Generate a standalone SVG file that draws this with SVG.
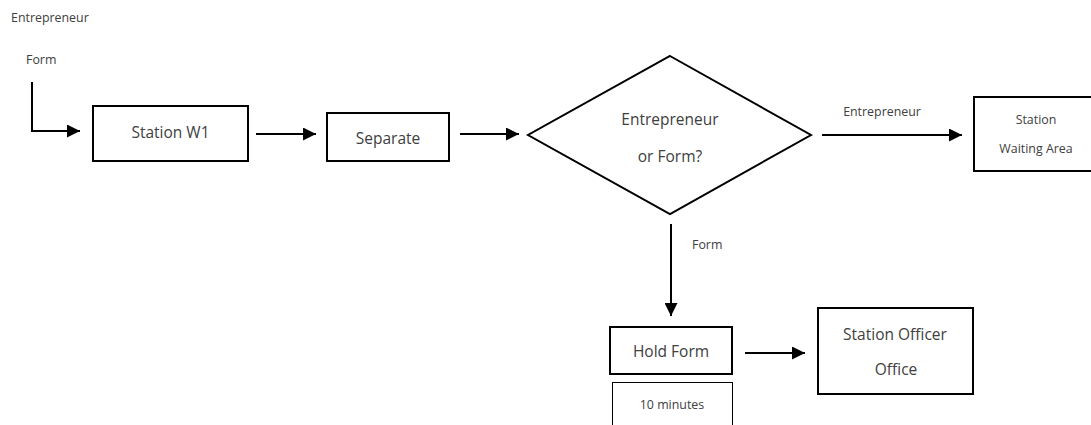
<svg xmlns="http://www.w3.org/2000/svg" width="1091" height="425" viewBox="0 0 1091 425">
  <defs>
    <marker id="arrow" markerUnits="userSpaceOnUse" markerWidth="14" markerHeight="13" refX="13" refY="6.5" orient="auto">
      <path d="M0,0 L13,6.5 L0,13 z" fill="#000"/>
    </marker>
    <style>
      .box { fill: #fff; stroke: #000; stroke-width: 2; }
      .thin { fill: #fff; stroke: #000; stroke-width: 1; }
      .conn { fill: none; stroke: #000; stroke-width: 2; marker-end: url(#arrow); }
      text { font-family: "Open Sans", "Noto Sans", "DejaVu Sans", sans-serif; fill: #404040; }
      .main { font-size: 15.5px; text-anchor: middle; }
      .small { font-size: 12.4px; }
      .mid { text-anchor: middle; }
    </style>
  </defs>
  <rect width="1091" height="425" fill="#fff"/>

  <!-- free-standing labels -->
  <text class="small" x="11" y="22">Entrepreneur</text>
  <text class="small" x="26" y="64">Form</text>

  <g id="connectors">
    <polyline class="conn" points="32,82 32,131 80,131"/>
    <line class="conn" x1="256" y1="134" x2="316" y2="134"/>
    <line class="conn" x1="460" y1="134" x2="519" y2="134"/>
    <line class="conn" x1="822" y1="135" x2="962" y2="135"/>
    <text class="small mid" x="882" y="116">Entrepreneur</text>
    <line class="conn" x1="671" y1="224" x2="671" y2="316"/>
    <text class="small" x="692" y="249">Form</text>
    <line class="conn" x1="745" y1="353" x2="805" y2="353"/>
  </g>

  <g id="station-w1">
    <rect class="box" x="93" y="106" width="155" height="55"/>
    <text class="main" x="170.5" y="138">Station W1</text>
  </g>

  <g id="separate">
    <rect class="box" x="327" y="113" width="122" height="48"/>
    <text class="main" x="388" y="144">Separate</text>
  </g>

  <g id="decision">
    <polygon class="box" points="670,56 811,135 670,214 528,135"/>
    <text class="main" x="670" y="125">Entrepreneur</text>
    <text class="main" x="670" y="162">or Form?</text>
  </g>

  <g id="waiting-area">
    <rect class="box" x="974" y="97" width="130" height="74"/>
    <text class="small mid" x="1036" y="124">Station</text>
    <text class="small mid" x="1036" y="153">Waiting Area</text>
  </g>

  <g id="hold-form">
    <rect class="box" x="610" y="327" width="122" height="47"/>
    <text class="main" x="671" y="357">Hold Form</text>
  </g>

  <g id="duration">
    <rect class="thin" x="612.5" y="382.5" width="120" height="60"/>
    <text class="small mid" x="672" y="409">10 minutes</text>
  </g>

  <g id="officer-office">
    <rect class="box" x="818" y="308" width="155" height="86"/>
    <text class="main" x="895" y="340">Station Officer</text>
    <text class="main" x="896" y="375">Office</text>
  </g>
</svg>
